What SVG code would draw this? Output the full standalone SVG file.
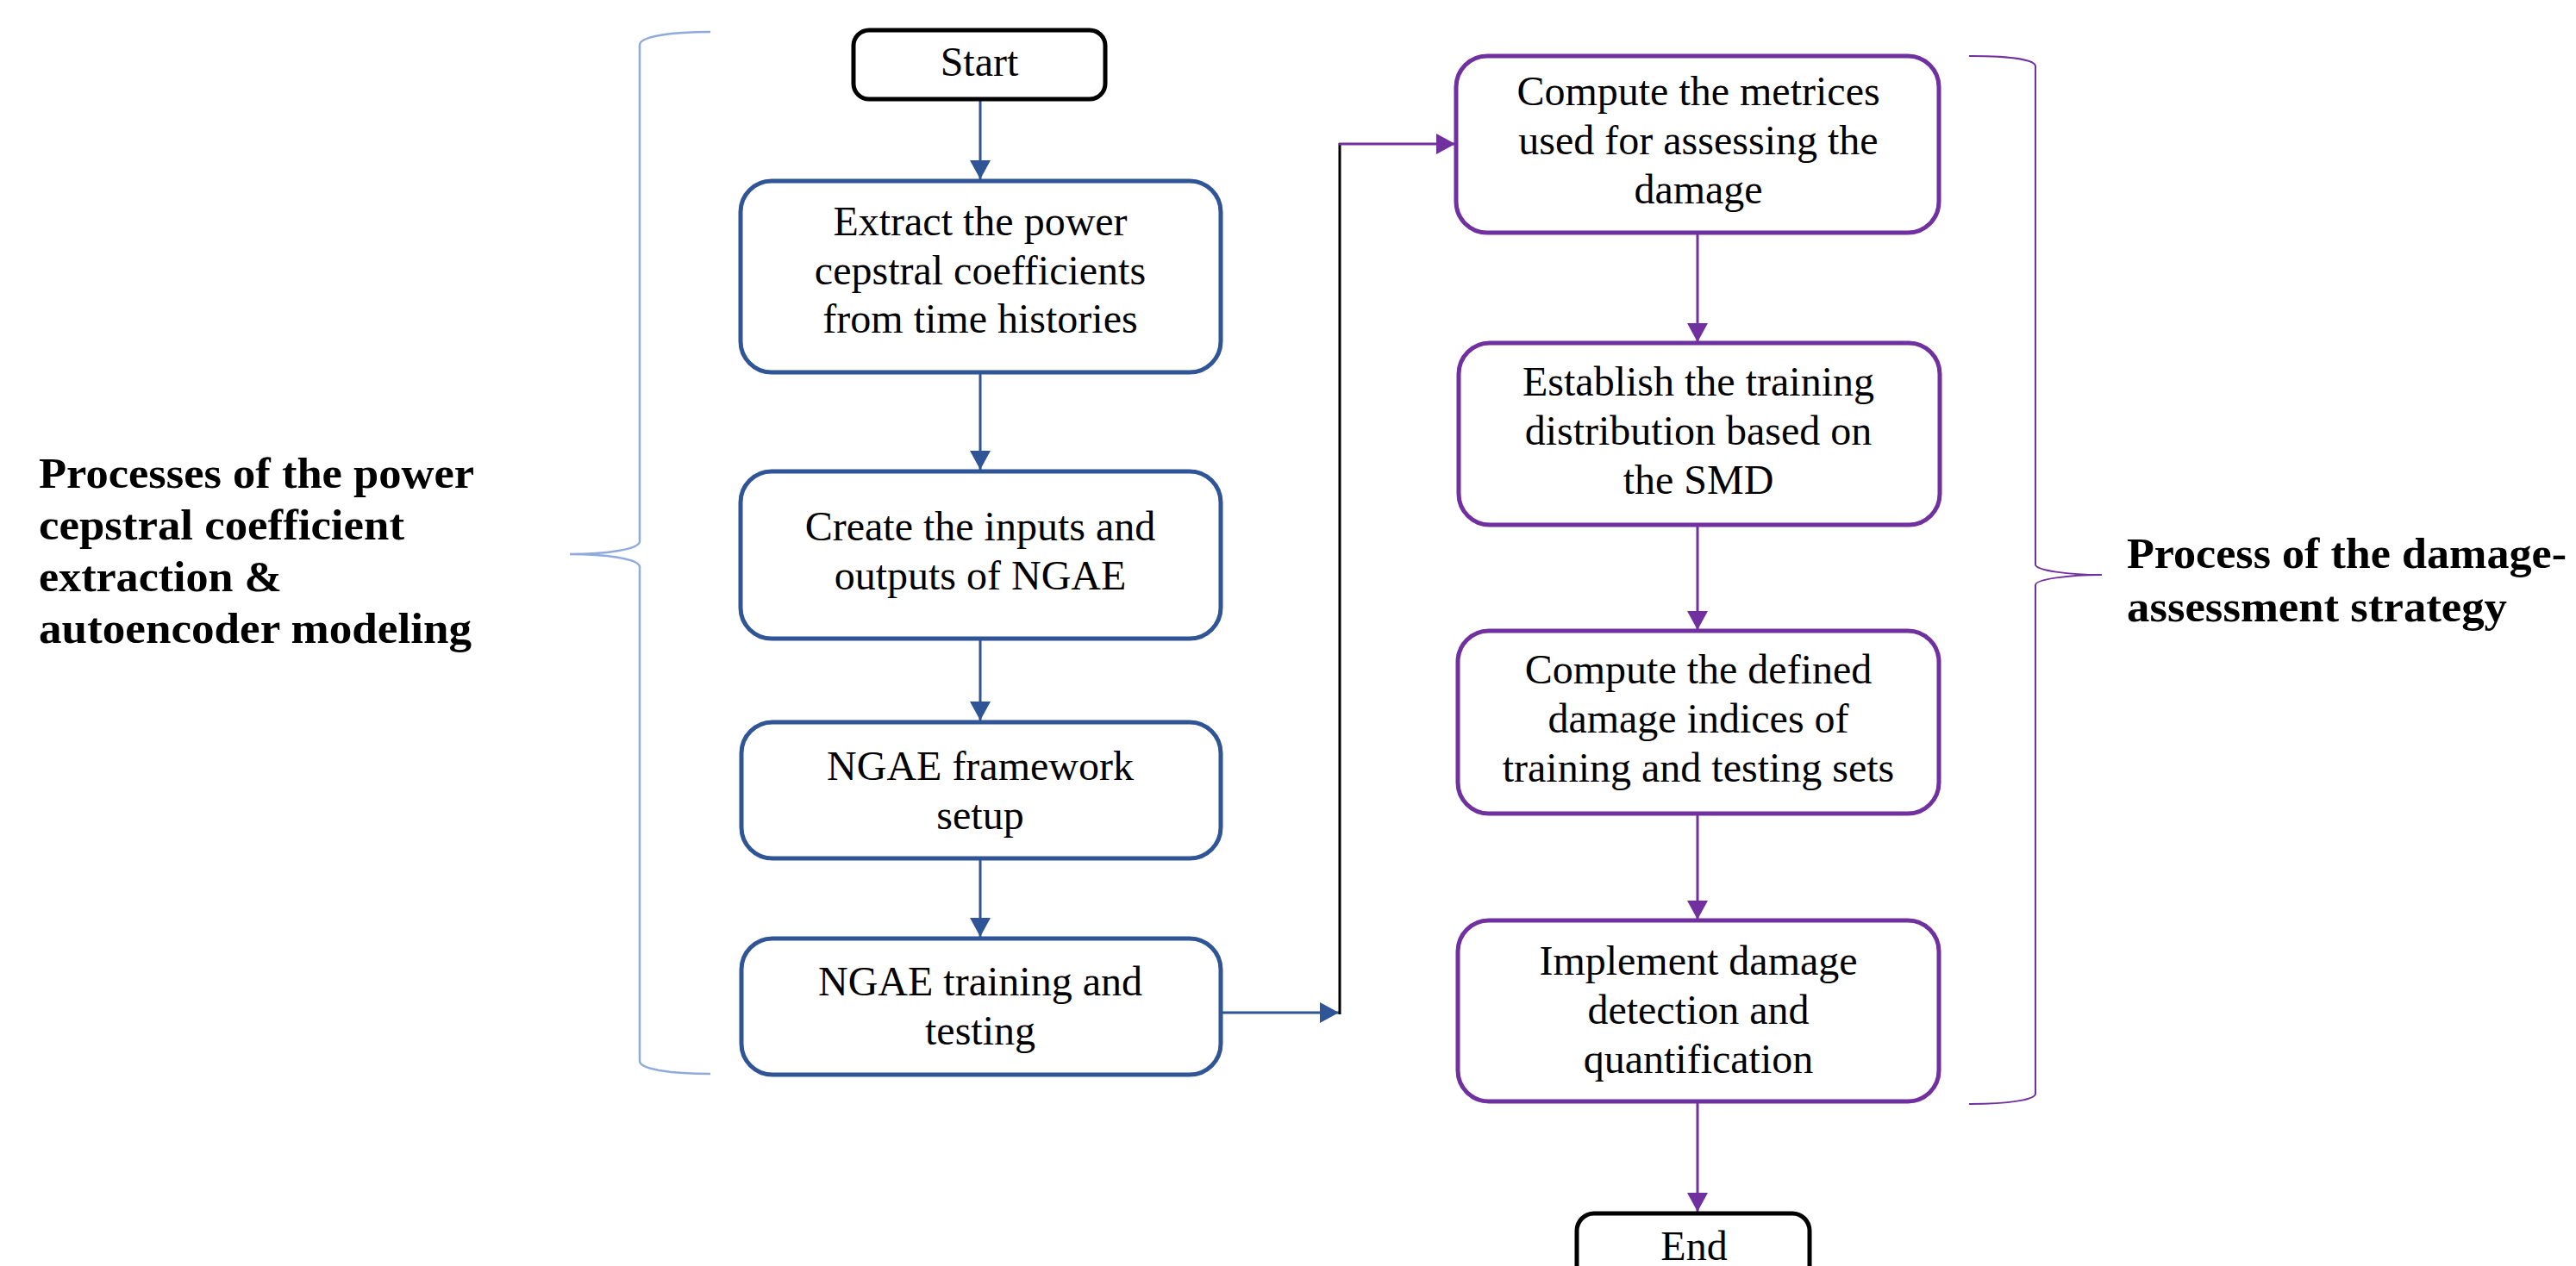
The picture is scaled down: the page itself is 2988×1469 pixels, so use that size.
<svg xmlns="http://www.w3.org/2000/svg" width="2988" height="1469" viewBox="0 0 2988 1469">
<style>
.bg{fill:#ffffff}
.bb{fill:#ffffff;stroke:#2F5597;stroke-width:5}
.pb{fill:#ffffff;stroke:#7030A0;stroke-width:5}
.kb{fill:#ffffff;stroke:#000000;stroke-width:5}
.t{font-family:"Liberation Serif","Times New Roman",serif;font-size:48px;fill:#000;text-anchor:middle}
.lb{font-family:"Liberation Serif","Times New Roman",serif;font-size:50px;font-weight:bold;fill:#000}
.cb{fill:none;stroke:#2F5597;stroke-width:3}
.cp{fill:none;stroke:#7030A0;stroke-width:3}
.ck{fill:none;stroke:#000;stroke-width:3}
.brl{fill:none;stroke:#8FAADC;stroke-width:2.5}
.brr{fill:none;stroke:#7030A0;stroke-width:2}
</style>
<defs>
<marker id="ab" markerUnits="userSpaceOnUse" markerWidth="24" markerHeight="24" refX="22" refY="12" orient="auto"><path d="M0,0 L22,12 L0,24 Z" fill="#2F5597"/></marker>
<marker id="ap" markerUnits="userSpaceOnUse" markerWidth="24" markerHeight="24" refX="22" refY="12" orient="auto"><path d="M0,0 L22,12 L0,24 Z" fill="#7030A0"/></marker>
</defs>
<rect class="bg" x="0" y="0" width="2988" height="1469"/>

<g id="connectors">
<line class="cb" x1="1137" y1="115" x2="1137" y2="208" marker-end="url(#ab)"/>
<line class="cb" x1="1137" y1="432" x2="1137" y2="545" marker-end="url(#ab)"/>
<line class="cb" x1="1137" y1="741" x2="1137" y2="836" marker-end="url(#ab)"/>
<line class="cb" x1="1137" y1="996" x2="1137" y2="1087" marker-end="url(#ab)"/>
<line class="cb" x1="1410" y1="1175" x2="1553" y2="1175" marker-end="url(#ab)"/>
<line class="ck" x1="1554" y1="1177" x2="1554" y2="166"/>
<line class="cp" x1="1553" y1="167" x2="1688" y2="167" marker-end="url(#ap)"/>
<line class="cp" x1="1969" y1="270" x2="1969" y2="397" marker-end="url(#ap)"/>
<line class="cp" x1="1969" y1="609" x2="1969" y2="731" marker-end="url(#ap)"/>
<line class="cp" x1="1969" y1="944" x2="1969" y2="1067" marker-end="url(#ap)"/>
<line class="cp" x1="1969" y1="1278" x2="1969" y2="1406" marker-end="url(#ap)"/>
</g>

<g id="start">
<rect class="kb" x="990" y="35" width="292" height="80" rx="18"/>
<text class="t" x="1136" y="88">Start</text>
</g>
<g id="extract">
<rect class="bb" x="859" y="210" width="557" height="222" rx="36"/>
<text class="t" x="1137" y="273">Extract the power</text>
<text class="t" x="1137" y="330">cepstral coefficients</text>
<text class="t" x="1137" y="386">from time histories</text>
</g>
<g id="create">
<rect class="bb" x="859" y="547" width="557" height="194" rx="36"/>
<text class="t" x="1137" y="627">Create the inputs and</text>
<text class="t" x="1137" y="684">outputs of NGAE</text>
</g>
<g id="setup">
<rect class="bb" x="860" y="838" width="556" height="158" rx="36"/>
<text class="t" x="1137" y="905">NGAE framework</text>
<text class="t" x="1137" y="962">setup</text>
</g>
<g id="training">
<rect class="bb" x="860" y="1089" width="556" height="158" rx="36"/>
<text class="t" x="1137" y="1155">NGAE training and</text>
<text class="t" x="1137" y="1212">testing</text>
</g>
<g id="metrics">
<rect class="pb" x="1689" y="65" width="560" height="205" rx="36"/>
<text class="t" x="1970" y="122">Compute the metrices</text>
<text class="t" x="1970" y="179">used for assessing the</text>
<text class="t" x="1970" y="236">damage</text>
</g>
<g id="distribution">
<rect class="pb" x="1692" y="398" width="558" height="211" rx="36"/>
<text class="t" x="1970" y="459">Establish the training</text>
<text class="t" x="1970" y="516">distribution based on</text>
<text class="t" x="1970" y="573">the SMD</text>
</g>
<g id="indices">
<rect class="pb" x="1691" y="732" width="558" height="212" rx="36"/>
<text class="t" x="1970" y="793">Compute the defined</text>
<text class="t" x="1970" y="850">damage indices of</text>
<text class="t" x="1970" y="907">training and testing sets</text>
</g>
<g id="implement">
<rect class="pb" x="1691" y="1068" width="558" height="210" rx="36"/>
<text class="t" x="1970" y="1131">Implement damage</text>
<text class="t" x="1970" y="1188">detection and</text>
<text class="t" x="1970" y="1245">quantification</text>
</g>
<g id="end">
<rect class="kb" x="1829" y="1408" width="270" height="100" rx="20"/>
<text class="t" x="1965" y="1462">End</text>
</g>

<g id="left-brace">
<path class="brl" d="M824,37 C780,37 742,42 742,52 L742,628 C742,638 700,643 661,643 C700,643 742,648 742,658 L742,1231 C742,1241 780,1246 824,1246"/>
<text class="lb" x="45" y="566" textLength="505" lengthAdjust="spacingAndGlyphs">Processes of the power</text>
<text class="lb" x="45" y="626" textLength="424" lengthAdjust="spacingAndGlyphs">cepstral coefficient</text>
<text class="lb" x="45" y="686" textLength="282" lengthAdjust="spacingAndGlyphs">extraction &amp;</text>
<text class="lb" x="45" y="746" textLength="502" lengthAdjust="spacingAndGlyphs">autoencoder modeling</text>
</g>
<g id="right-brace">
<path class="brr" d="M2284,65 C2330,65 2361,69 2361,77 L2361,655 C2361,662 2400,667 2438,667 C2400,667 2361,672 2361,679 L2361,1269 C2361,1276 2330,1281 2284,1281"/>
<text class="lb" x="2467" y="659" textLength="510" lengthAdjust="spacingAndGlyphs">Process of the damage-</text>
<text class="lb" x="2467" y="721" textLength="441" lengthAdjust="spacingAndGlyphs">assessment strategy</text>
</g>
</svg>
